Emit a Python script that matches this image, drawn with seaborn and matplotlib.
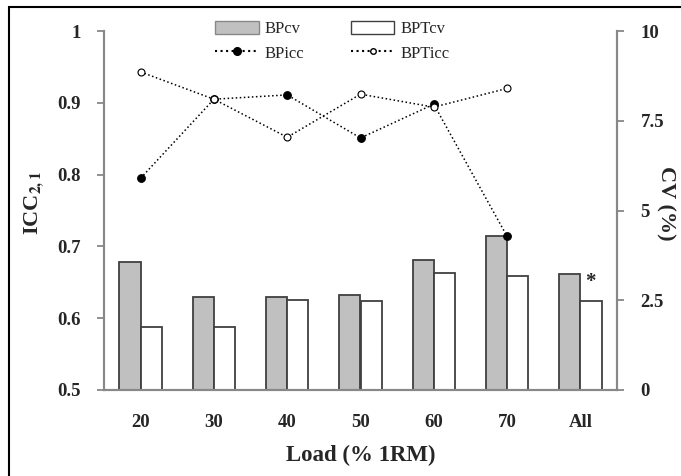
import numpy as np
import pandas as pd
import matplotlib
matplotlib.use('Agg')
import matplotlib.pyplot as plt
from matplotlib.patches import Patch, Rectangle
from matplotlib.lines import Line2D
import seaborn as sns

# data
loads = ['20', '30', '40', '50', '60', '70', 'All']
bp_cv = [3.57, 2.60, 2.58, 2.65, 3.63, 4.30, 3.23]
bpt_cv = [1.75, 1.75, 2.51, 2.48, 3.26, 3.17, 2.48]
icc_loads = ['20', '30', '40', '50', '60', '70']
bp_icc = [0.795, 0.905, 0.911, 0.851, 0.898, 0.714]
bpt_icc = [0.943, 0.905, 0.852, 0.912, 0.894, 0.920]

sns.set_style('white')
plt.rcParams['font.family'] = ['Liberation Serif', 'DejaVu Serif']
plt.rcParams['mathtext.fontset'] = 'stix'

cv = pd.DataFrame({'Load': loads * 2,
                   'CV': bp_cv + bpt_cv,
                   'Series': ['BPcv'] * len(loads) + ['BPTcv'] * len(loads)})

fig = plt.figure(figsize=(6.81, 4.76), dpi=100)
ax = fig.add_axes([104 / 681, 86 / 476, 513 / 681, 359 / 476])
ax2 = ax.twinx()

# bars on the CV (right) axis
sns.barplot(data=cv, x='Load', y='CV', hue='Series', order=loads,
            palette={'BPcv': '#c0c0c0', 'BPTcv': 'white'}, width=0.58,
            edgecolor='#404040', linewidth=1.3, errorbar=None, ax=ax2, legend=False)

# icc lines on the left axis, drawn above the bars
ax.set_zorder(ax2.get_zorder() + 1)
ax.patch.set_visible(False)
icc = pd.DataFrame({'Load': icc_loads, 'BPicc': bp_icc, 'BPTicc': bpt_icc})
sns.pointplot(data=icc, x='Load', y='BPicc', order=loads, color='black',
              linestyle=':', marker='o', markersize=5.5, linewidth=1.1,
              errorbar=None, ax=ax)
sns.pointplot(data=icc, x='Load', y='BPTicc', order=loads, color='black',
              linestyle=':', marker='o', markersize=5, linewidth=1.1,
              markerfacecolor='white', errorbar=None, ax=ax)

ax.set_xlim(-0.5, 6.5)
ax.set_ylim(0.5, 1.0)
ax2.set_ylim(0, 10)

tick_font = dict(fontsize=13.5, fontweight='bold')
ax.set_yticks([0.5, 0.6, 0.7, 0.8, 0.9, 1.0])
ax.set_yticklabels(['0.5', '0.6', '0.7', '0.8', '0.9', '1'], **tick_font)
ax2.set_yticks([0, 2.5, 5, 7.5, 10])
ax2.set_yticklabels(['0', '2.5', '5', '7.5', '10'], **tick_font)
ax.set_xticks(range(len(loads)))
ax.set_xticklabels(loads, **tick_font)
ax.set_xticks(np.arange(-0.5, 7, 1), minor=True)
ax.tick_params(axis='x', which='major', length=0, pad=17)
ax.tick_params(axis='x', which='minor', length=6, width=1.3, color='#888888', direction='out')
ax.tick_params(axis='y', length=5, width=1.3, color='#888888', direction='out', pad=12)
ax2.tick_params(axis='y', length=5, width=1.3, color='#888888', direction='out', pad=12)
ax2.tick_params(axis='x', length=0)
ax2.set_xlabel('')

for a in (ax, ax2):
    for side in ('left', 'right', 'bottom'):
        a.spines[side].set_color('#888888')
        a.spines[side].set_linewidth(1.5)
        a.spines[side].set_visible(True)
    a.spines['top'].set_visible(False)

ax.set_xlabel('Load (% 1RM)', fontsize=16.5, fontweight='bold', labelpad=10)
ax.set_ylabel(r'ICC$_{\mathbf{2,1}}$', fontsize=16, fontweight='bold')
ax.yaxis.set_label_coords(-0.113, 0.52)
ax2.set_ylabel('CV (%)', fontsize=16, fontweight='bold', rotation=-90, va='center')
ax2.yaxis.set_label_coords(1.094, 0.52)

ax2.text(6.13, 2.74, '*', fontsize=15, fontweight='bold', ha='center', va='bottom')

handles = [Patch(facecolor='#c0c0c0', edgecolor='#888888', label='BPcv'),
           Line2D([], [], color='black', linestyle=':', marker='o', markersize=5.5,
                  label='BPicc'),
           Patch(facecolor='white', edgecolor='#404040', label='BPTcv'),
           Line2D([], [], color='black', linestyle=':', marker='o', markersize=4,
                  markerfacecolor='white', label='BPTicc')]
ax.legend(handles=handles, ncol=2, frameon=False, loc='upper center',
          bbox_to_anchor=(0.445, 1.07), fontsize=12, handlelength=2.6,
          handleheight=0.8, columnspacing=2.8, labelspacing=0.5, handletextpad=0.35)

fig.patches.append(Rectangle((9 / 681, -0.1), 1.2, 1.1 - 7 / 476, transform=fig.transFigure,
                             fill=False, edgecolor='black', linewidth=1.5))

fig.savefig('out.png', dpi=100)
